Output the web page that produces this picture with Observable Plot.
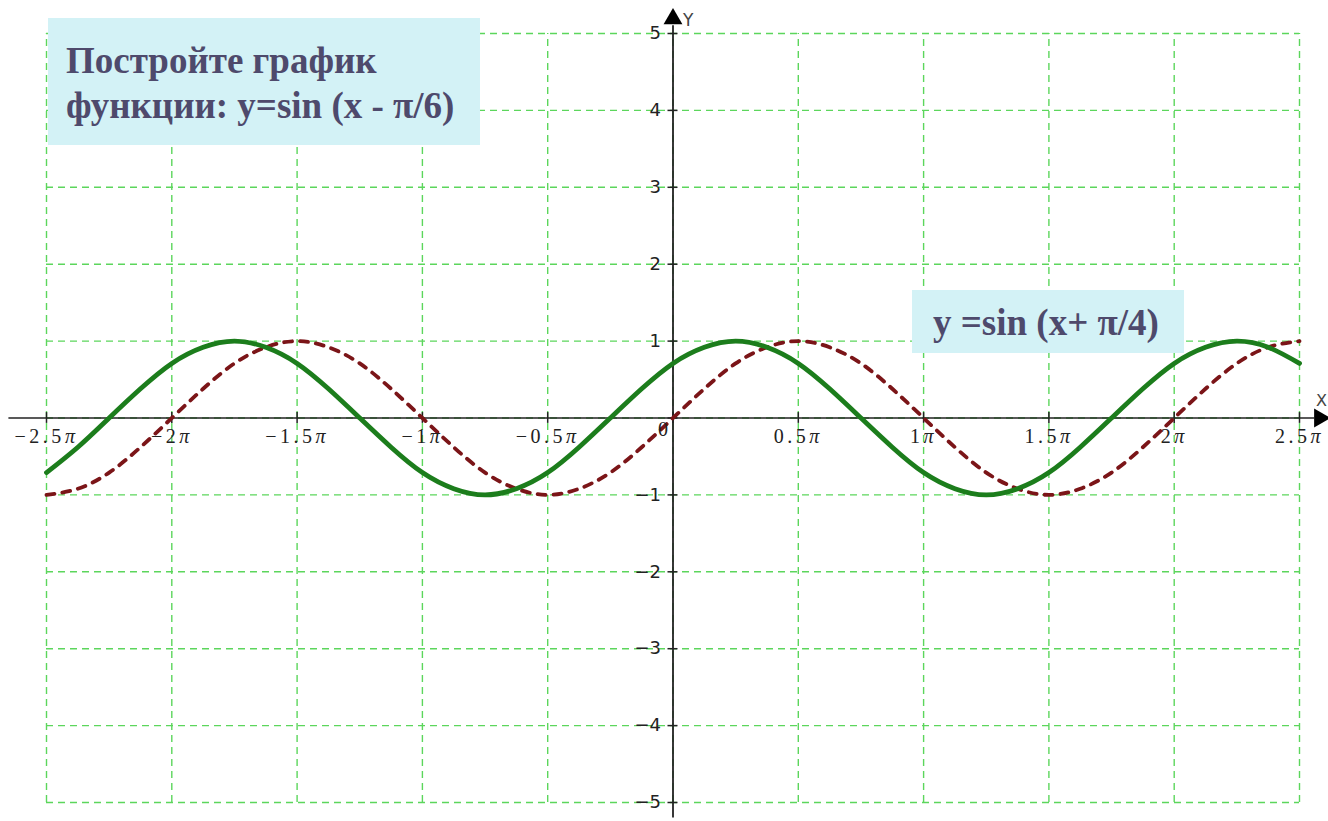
<!DOCTYPE html>
<html>
<head>
<meta charset="utf-8">
<script src="https://cdn.jsdelivr.net/npm/d3@7"></script>
<script src="https://cdn.jsdelivr.net/npm/@observablehq/plot@0.6"></script>
<style>
  html, body { margin: 0; padding: 0; background: #fff; }
  #wrap { position: relative; width: 1328px; height: 821px; overflow: hidden; }
  #wrap svg { position: absolute; left: 0; top: 0; }
  .box { position: absolute; background: #d3f2f6; color: #4e4a6c; font-family: "Liberation Serif", "Times New Roman", serif; font-weight: bold; box-sizing: border-box; white-space: nowrap; }
  #box1 { left: 48px; top: 18px; width: 432px; height: 127px; font-size: 37px; line-height: 45px; padding: 20px 0 0 18px; }
  #box2 { left: 912px; top: 290px; width: 272px; height: 63px; font-size: 37px; line-height: 40px; padding: 13px 0 0 21px; }
</style>
</head>
<body>
<div id="wrap">
  <div id="chart"></div>
  <div class="box" id="box1">Постройте график<br>функции: y=sin (x - π/6)</div>
  <div class="box" id="box2">y =sin (x+ π/4)</div>
</div>
<script>
// x in units of π
const xs = [-2.5,-2.375,-2.25,-2.125,-2,-1.875,-1.75,-1.625,-1.5,-1.375,-1.25,-1.125,-1,-0.875,-0.75,-0.625,-0.5,-0.375,-0.25,-0.125,0,0.125,0.25,0.375,0.5,0.625,0.75,0.875,1,1.125,1.25,1.375,1.5,1.625,1.75,1.875,2,2.125,2.25,2.375,2.5];
// dashed maroon curve (y = sin x)
const redY = [-1,-0.92,-0.71,-0.38,0,0.38,0.71,0.92,1,0.92,0.71,0.38,0,-0.38,-0.71,-0.92,-1,-0.92,-0.71,-0.38,
  0,0.38,0.71,0.92,1,0.92,0.71,0.38,0,-0.38,-0.71,-0.92,-1,-0.92,-0.71,-0.38,0,0.38,0.71,0.92,1];
// solid green curve (y = sin(x + π/4))
const greenY = [-0.71,-0.38,0,0.38,0.71,0.92,1,0.92,0.71,0.38,0,-0.38,-0.71,-0.92,-1,-0.92,-0.71,-0.38,0,0.38,
  0.71,0.92,1,0.92,0.71,0.38,0,-0.38,-0.71,-0.92,-1,-0.92,-0.71,-0.38,0,0.38,0.71,0.92,1,0.92,0.71];

const xTicks = [-2.5,-2,-1.5,-1,-0.5,0.5,1,1.5,2,2.5];
const xTickLabels = ["−2.5π","−2π","−1.5π","−1π","−0.5π","0.5π","1π","1.5π","2π","2.5π"];
const xGrid = [-2.5,-2,-1.5,-1,-0.5,0,0.5,1,1.5,2,2.5];
const yTicks = [5,4,3,2,1,-1,-2,-3,-4,-5];
const yTickLabels = ["5","4","3","2","1","−1","−2","−3","−4","−5"];
const yGrid = [5,4,3,2,1,0,-1,-2,-3,-4,-5];
const xAxisExtent = [-2.65, 2.56];
const yAxisExtent = [-5.2, 5.1];
const xArrowTip = 2.58, yArrowTip = 5.19;

const red = xs.map((x, i) => ({x, y: redY[i]}));
const green = xs.map((x, i) => ({x, y: greenY[i]}));

const gridColor = "#5cd65c";
const chart = Plot.plot({
  width: 1328,
  height: 821,
  marginLeft: 46,
  marginRight: 29,
  marginTop: 33,
  marginBottom: 19,
  x: {domain: [-2.5, 2.5], axis: null},
  y: {domain: [-5, 5], axis: null},
  style: {background: "transparent", overflow: "visible"},
  marks: [
    Plot.ruleX(xGrid, {y1: -5, y2: 5, stroke: gridColor, strokeWidth: 1.4, strokeDasharray: "7,5"}),
    Plot.ruleY(yGrid, {x1: -2.5, x2: 2.5, stroke: gridColor, strokeWidth: 1.4, strokeDasharray: "7,5"}),
    // axes
    Plot.ruleY([0], {x1: xAxisExtent[0], x2: xAxisExtent[1], stroke: "#222", strokeWidth: 1.6}),
    Plot.ruleX([0], {y1: yAxisExtent[0], y2: yAxisExtent[1], stroke: "#222", strokeWidth: 1.8}),
    Plot.dot([{x: xArrowTip, y: 0}], {x: "x", y: "y", symbol: "triangle", r: 7, rotate: 90, fill: "#000", stroke: "none"}),
    Plot.dot([{x: 0, y: yArrowTip}], {x: "x", y: "y", symbol: "triangle", r: 7, fill: "#000", stroke: "none"}),
    // tick marks
    Plot.ruleX(xGrid, {y1: -0.07, y2: 0.07, stroke: "#222", strokeWidth: 1.5}),
    Plot.ruleY(yGrid, {x1: -0.02, x2: 0.02, stroke: "#222", strokeWidth: 1.5}),
    // curves
    Plot.line(red, {x: "x", y: "y", curve: "natural", stroke: "#7b1518", strokeWidth: 3.8, strokeDasharray: "8,8"}),
    Plot.line(green, {x: "x", y: "y", curve: "natural", stroke: "#1c7d1c", strokeWidth: 4.8}),
    // tick labels
    Plot.text(xTicks, {x: d => d, y: 0, text: (d, i) => xTickLabels[i], dy: 19, fontSize: 20, fontFamily: "Liberation Serif, serif", fill: "#222"}),
    Plot.text([0], {x: 0, y: 0, text: ["0"], dx: -10, dy: 12, fontSize: 20, fontFamily: "Liberation Serif, serif", fill: "#222"}),
    Plot.text(yTicks, {x: 0, y: d => d, text: (d, i) => yTickLabels[i], dx: -12, textAnchor: "end", fontSize: 18, fontFamily: "DejaVu Sans, sans-serif", fill: "#222"}),
    // axis names
    Plot.text(["Y"], {x: 0, y: yArrowTip, dx: 10, dy: 2, textAnchor: "start", fontSize: 17, fontFamily: "DejaVu Sans, sans-serif", fill: "#444"}),
    Plot.text(["X"], {x: xArrowTip, y: 0, dx: 2, dy: -17, fontSize: 16, fontFamily: "DejaVu Sans, sans-serif", fill: "#444"})
  ]
});
// widen and italicise π in the x tick labels, like the reference
const textGroups = d3.select(chart).selectAll('g[aria-label="text"]');
textGroups.filter((d, i) => i === 0).style("letter-spacing", "3.5px")
  .selectAll("text").each(function () {
    const t = this.textContent;
    if (t.endsWith("π")) {
      this.textContent = t.slice(0, -1);
      d3.select(this).append("tspan").attr("font-style", "italic").text("π");
    }
  });
document.getElementById("chart").appendChild(chart);
</script>
</body>
</html>
